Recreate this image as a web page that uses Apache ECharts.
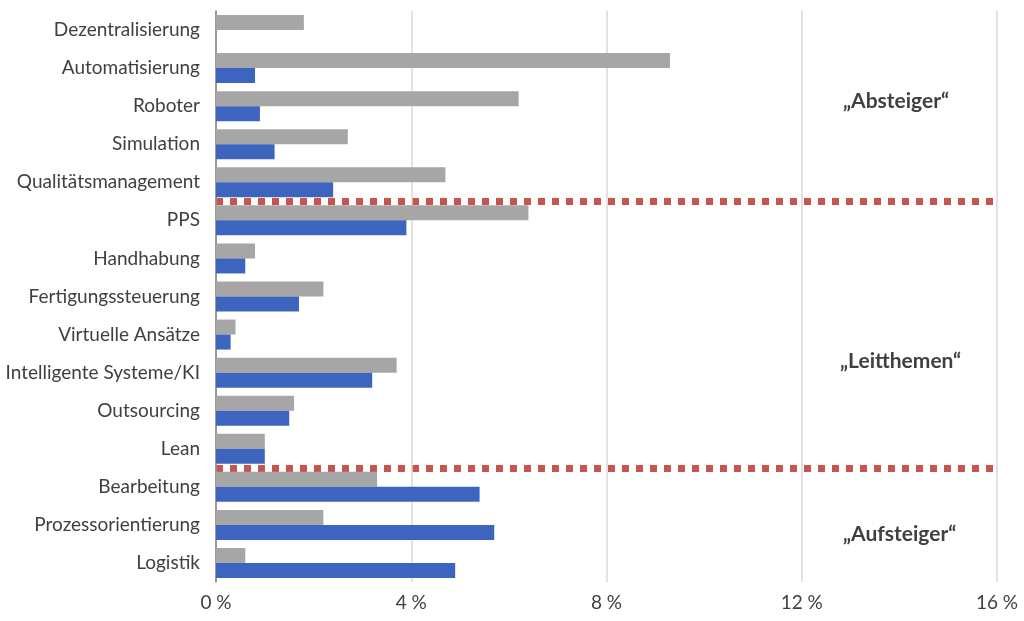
<!DOCTYPE html>
<html>
<head>
<meta charset="utf-8">
<script src="https://cdn.jsdelivr.net/npm/echarts@6/dist/echarts.min.js"></script>
<style>
  html, body { margin: 0; padding: 0; background: #fff; }
  #chart { width: 1024px; height: 621px; }
</style>
</head>
<body>
<div id="chart"></div>
<script>
const categories = [
  'Dezentralisierung', 'Automatisierung', 'Roboter', 'Simulation',
  'Qualitätsmanagement', 'PPS', 'Handhabung', 'Fertigungssteuerung',
  'Virtuelle Ansätze', 'Intelligente Systeme/KI', 'Outsourcing', 'Lean',
  'Bearbeitung', 'Prozessorientierung', 'Logistik'
]
// grauer Balken (oben) und blauer Balken (unten), Anteil in %
const grayValues = [1.8, 9.3, 6.2, 2.7, 4.7, 6.4, 0.8, 2.2, 0.4, 3.7, 1.6, 1.0, 3.3, 2.2, 0.6]
const blueValues = [0, 0.8, 0.9, 1.2, 2.4, 3.9, 0.6, 1.7, 0.3, 3.2, 1.5, 1.0, 5.4, 5.7, 4.9]
const xTicks = [0, 4, 8, 12, 16]
// Trennlinien nach diesen Kategorien (Index)
const separatorsAfter = [4, 11]
const groupLabels = ['„Absteiger“', '„Leitthemen“', '„Aufsteiger“']

const font = 'Lato, "Open Sans", sans-serif'
const sepColor = '#c9534d'

// one colour per category boundary, only the separators are visible
const splitColors = []
for (let i = 0; i <= categories.length; i++) {
  splitColors.push(separatorsAfter.indexOf(i - 1) >= 0 ? sepColor : 'rgba(0,0,0,0)')
}

const chart = echarts.init(document.getElementById('chart'))

const option = {
  animation: false,
  textStyle: { fontFamily: font },
  grid: { left: 216, right: 27, top: 11, bottom: 39 },
  xAxis: {
    type: 'value',
    min: xTicks[0],
    max: xTicks[xTicks.length - 1],
    interval: 4,
    axisLine: { show: false },
    axisTick: { show: false },
    axisLabel: {
      color: '#404040',
      fontSize: 19,
      fontFamily: font,
      margin: 11,
      formatter: v => v + ' %'
    },
    splitLine: {
      show: true,
      lineStyle: { color: '#d9d9d9', width: 1.5 }
    }
  },
  yAxis: {
    type: 'category',
    inverse: true,
    data: categories,
    axisLine: { show: true, lineStyle: { color: '#7f7f7f', width: 1.5 } },
    axisTick: { show: false },
    axisLabel: {
      color: '#404040',
      fontSize: 19,
      fontFamily: font,
      margin: 16
    },
    splitLine: {
      show: true,
      interval: 0,
      lineStyle: { color: splitColors, width: 7, type: [7, 7] }
    }
  },
  series: [
    {
      name: 'gray',
      type: 'bar',
      data: grayValues,
      barWidth: 15,
      barGap: '0%',
      itemStyle: { color: '#a6a6a6' }
    },
    {
      name: 'blue',
      type: 'bar',
      data: blueValues,
      barWidth: 15,
      barGap: '0%',
      itemStyle: { color: '#3d65c0' }
    }
  ],
  graphic: [
    { type: 'text', left: 843, top: 91, style: { text: groupLabels[0], font: 'bold 21px ' + font, fill: '#404040' } },
    { type: 'text', left: 840, top: 351, style: { text: groupLabels[1], font: 'bold 21px ' + font, fill: '#404040' } },
    { type: 'text', left: 843, top: 524, style: { text: groupLabels[2], font: 'bold 21px ' + font, fill: '#404040' } }
  ]
}

chart.setOption(option)
</script>
</body>
</html>
